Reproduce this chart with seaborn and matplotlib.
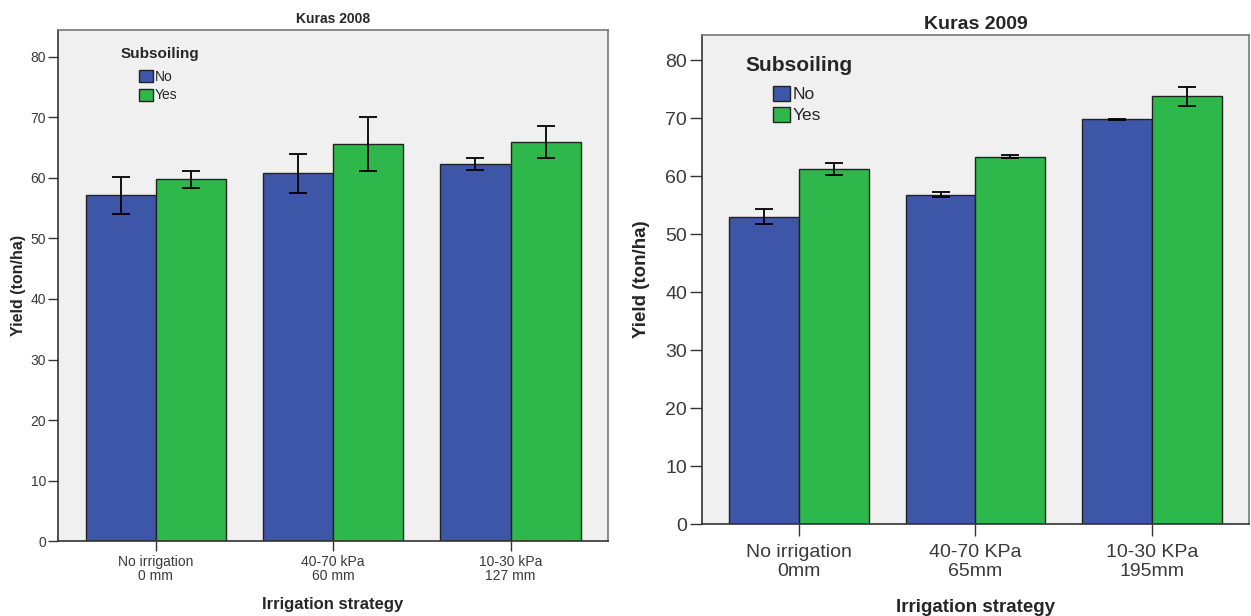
import pandas as pd
import seaborn as sns
import matplotlib.pyplot as plt

# data
subsoiling = ["No", "Yes"]

strategies_2008 = ["No irrigation\n0 mm", "40-70 kPa\n60 mm", "10-30 kPa\n127 mm"]
yield_2008_no = [57.1, 60.75, 62.3]
yield_2008_yes = [59.75, 65.6, 65.9]
err_2008_no = [3.0, 3.25, 1.0]
err_2008_yes = [1.4, 4.4, 2.6]

strategies_2009 = ["No irrigation\n0mm", "40-70 KPa\n65mm", "10-30 KPa\n195mm"]
yield_2009_no = [53.05, 56.85, 69.85]
yield_2009_yes = [61.3, 63.4, 73.8]
err_2009_no = [1.25, 0.4, 0.1]
err_2009_yes = [1.0, 0.25, 1.65]

BLUE = "#3E56A8"
GREEN = "#2EB84B"
BG = "#F0F0F0"

sns.set_style("ticks")
plt.rcParams['font.family'] = ['Liberation Sans', 'DejaVu Sans']


def draw_panel(ax, labels, no, yes, err_no, err_yes, title, s):
    df = pd.DataFrame({
        "strategy": labels * 2,
        "subsoiling": [subsoiling[0]] * len(labels) + [subsoiling[1]] * len(labels),
        "yield": no + yes,
    })
    sns.barplot(data=df, x="strategy", y="yield", hue="subsoiling",
                palette=[BLUE, GREEN], errorbar=None, width=0.79, saturation=1,
                edgecolor="#222222", linewidth=1, legend=False, ax=ax)

    # error bars on top of each bar
    for cont, err in zip(ax.containers, [err_no, err_yes]):
        xs = [b.get_x() + b.get_width() / 2 for b in cont]
        ys = [b.get_height() for b in cont]
        ax.errorbar(xs, ys, yerr=err, fmt='none', ecolor='black',
                    elinewidth=1.3, capsize=6.2, capthick=1.3, zorder=5)

    ax.set_facecolor(BG)
    ax.set_xlim(-0.55, 2.55)
    ax.set_ylim(0, 84.4)
    ax.set_yticks(range(0, 81, 10))

    ax.set_title(title, fontsize=s["title"], fontweight='bold', pad=s["tpad"])
    ax.set_xlabel("Irrigation strategy", fontsize=s["xlab"], fontweight='bold',
                  labelpad=s["xlpad"])
    ax.set_ylabel("Yield (ton/ha)", fontsize=s["ylab"], fontweight='bold',
                  labelpad=s["ylpad"])

    ax.tick_params(axis='both', direction='out', length=s["tlen"], width=1,
                   color='#333333', labelcolor='#3a3a3a', labelsize=s["tick"])
    ax.tick_params(axis='y', pad=s["ypad"])
    ax.tick_params(axis='x', pad=s["xpad"])
    for t in ax.get_xticklabels():
        t.set_linespacing(s["lsp"])

    for side in ["left", "bottom"]:
        ax.spines[side].set_color('#333333')
        ax.spines[side].set_linewidth(1.2)
    for side in ["top", "right"]:
        ax.spines[side].set_visible(True)
        ax.spines[side].set_color('#777777')
        ax.spines[side].set_linewidth(1.2)

    # legend: bold title as text, patches indented below
    ax.text(s["lt_x"], s["lt_y"], "Subsoiling", transform=ax.transAxes,
            fontsize=s["ltitle"], fontweight='bold', va='center', ha='left')
    ax.legend(ax.containers, subsoiling, loc='upper left',
              bbox_to_anchor=(s["lg_x"], s["lg_y"]), frameon=False,
              fontsize=s["lfont"], handlelength=1.0, handleheight=0.95,
              handletextpad=0.15, labelspacing=s["lspace"], borderpad=0,
              borderaxespad=0)


fig = plt.figure(figsize=(12.51, 6.16), dpi=100)

ax1 = fig.add_axes([0.0464, 0.1213, 0.4397, 0.830])
draw_panel(ax1, strategies_2008, yield_2008_no, yield_2008_yes,
           err_2008_no, err_2008_yes, "Kuras 2008",
           dict(title=10, tpad=5, xlab=12, xlpad=10, ylab=11.5, ylpad=3,
                tick=10, tlen=7, ypad=1.5, xpad=3, lsp=1.0,
                ltitle=11, lt_x=0.113, lt_y=0.953, lfont=10, lspace=0.33,
                lg_x=0.147, lg_y=0.922))

ax2 = fig.add_axes([0.5609, 0.1489, 0.4377, 0.7943])
draw_panel(ax2, strategies_2009, yield_2009_no, yield_2009_yes,
           err_2009_no, err_2009_yes, "Kuras 2009",
           dict(title=14, tpad=4, xlab=13.5, xlpad=14, ylab=13.5, ylpad=11,
                tick=14, tlen=8.5, ypad=2, xpad=6, lsp=1.1,
                ltitle=15, lt_x=0.079, lt_y=0.937, lfont=12.5, lspace=0.27,
                lg_x=0.130, lg_y=0.896))

fig.savefig("out.png", dpi=100, facecolor='white')
